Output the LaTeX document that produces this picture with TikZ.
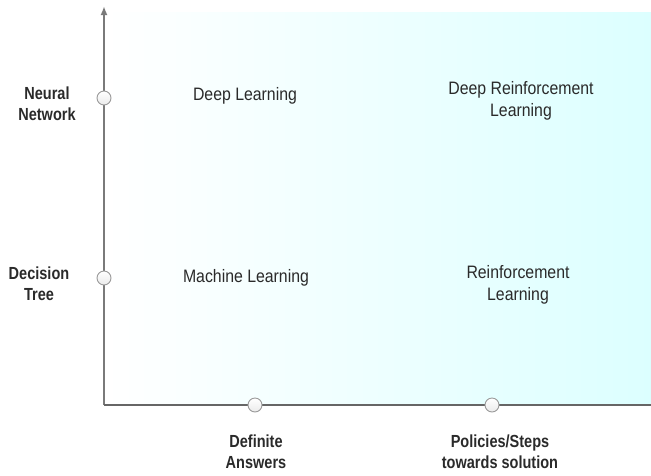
\documentclass[tikz,border=0pt]{standalone}
\usepackage{fontspec}
\setmainfont{Liberation Sans}[FakeStretch=0.88]
\newfontfamily\labelfont{Liberation Sans}[FakeStretch=0.83]
\usetikzlibrary{arrows.meta}
\definecolor{axisgray}{HTML}{7A7A7A}
\definecolor{txt}{HTML}{2A2A2A}
\definecolor{quadcyan}{HTML}{DCFFFF}
\definecolor{ringgray}{HTML}{9A9A9A}
\begin{document}
\begin{tikzpicture}[x=1pt,y=-1pt,
  axis/.style={draw=axisgray,line width=2.2pt},
  tick/.style={circle,minimum size=14pt,inner sep=0pt,draw=ringgray,line width=0.9pt,
    top color=white,bottom color=black!8},
  axislabel/.style={font=\labelfont\bfseries\fontsize{17.5}{21}\selectfont,text=txt,align=center,inner sep=0pt},
  field/.style={font=\fontsize{18}{22}\selectfont,text=txt,align=center,inner sep=0pt}]
  \useasboundingbox (0,0) rectangle (651,475);
  % quadrant background
  \fill[left color=white,right color=quadcyan] (105,12) rectangle (651,404);
  % axes
  \coordinate (origin) at (104,405);
  \coordinate (ytop) at (104,6);
  \coordinate (xend) at (651,405);
  \draw[axis,-{Latex[length=9pt,width=7pt]}] (origin) -- (ytop);
  \draw[axis,draw=black!60,line width=2.6pt] (origin) -- (xend);
  % ticks
  \node[tick] (nn) at (104,98) {};
  \node[tick] (dt) at (104,278) {};
  \node[tick] (da) at (255,405) {};
  \node[tick] (ps) at (492,405) {};
  % axis labels
  \node[axislabel] (nnl) at (47,104) {Neural\\Network};
  \node[axislabel] (dtl) at (39,284) {Decision\\Tree};
  \node[axislabel] (dal) at (256,452) {Definite\\Answers};
  \node[axislabel] (psl) at (500,452) {Policies/Steps\\towards solution};
  % fields
  \node[field] (dl) at (245,96) {Deep Learning};
  \node[field] (drl) at (521,101) {Deep Reinforcement\\Learning};
  \node[field] (ml) at (246,278) {Machine Learning};
  \node[field] (rl) at (518,285) {Reinforcement\\Learning};
\end{tikzpicture}
\end{document}
